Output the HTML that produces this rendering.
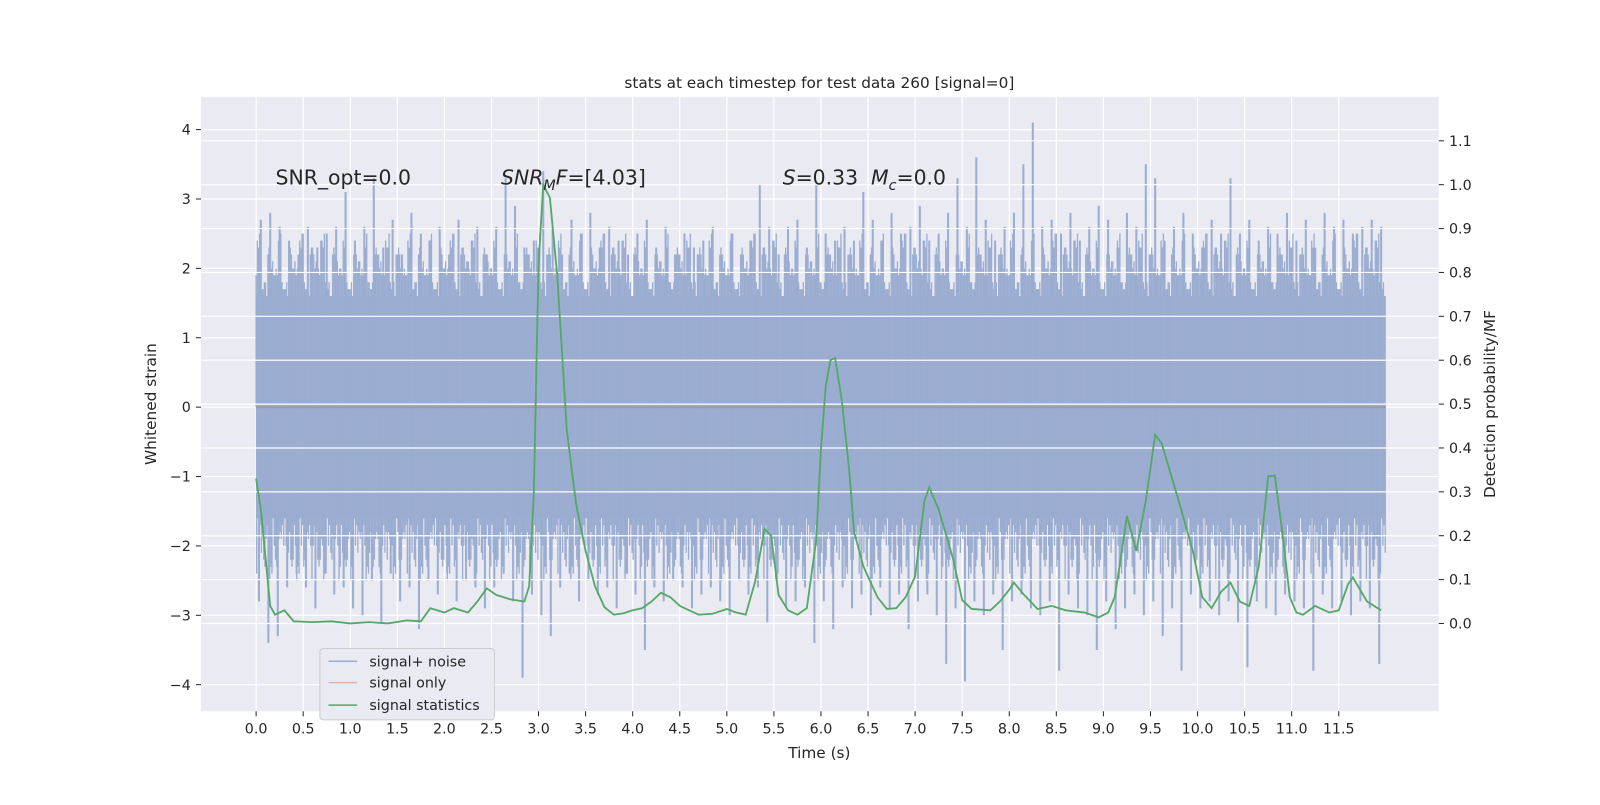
<!DOCTYPE html>
<html><head><meta charset="utf-8"><style>
body{margin:0;background:#fff}
svg text{font-family:"DejaVu Sans","Liberation Sans",sans-serif;fill:#262626}
</style></head><body>
<svg id="chart" width="1600" height="800" xmlns="http://www.w3.org/2000/svg">
<g transform="scale(1.0204)">
<rect x="197" y="95" width="1213" height="602" fill="#eaeaf2"/>
<g id="lgrid"></g><g id="noise"></g><g id="rgrid"></g><g id="series"></g><g id="axes"></g>
<text x="803" y="86" text-anchor="middle" font-size="15">stats at each timestep for test data 260 [signal=0]</text>
<text x="803" y="743" text-anchor="middle" font-size="15">Time (s)</text>
<text transform="translate(153,396) rotate(-90)" text-anchor="middle" font-size="15">Whitened strain</text>
<text transform="translate(1465,396) rotate(-90)" text-anchor="middle" font-size="15">Detection probability/MF</text>
<text x="270" y="181" font-size="20">SNR_opt=0.0</text>
<text x="491" y="181" font-size="20"><tspan font-style="italic">SNR</tspan><tspan font-style="italic" font-size="14" dy="5">M</tspan><tspan font-style="italic" dy="-5">F</tspan>=[4.03]</text>
<text x="767" y="181" font-size="20" xml:space="preserve"><tspan font-style="italic">S</tspan>=0.33  <tspan font-style="italic">M</tspan><tspan font-style="italic" font-size="14" dy="5">c</tspan><tspan dy="-5">=0.0</tspan></text>
<g>
<rect x="313.5" y="635.5" width="171" height="70" rx="3" fill="#eaeaf2" stroke="#cccccc"/>
<line x1="322" y1="648" x2="350" y2="648" stroke="#4c72b0" stroke-opacity="0.5" stroke-width="1.5"/>
<text x="362" y="653" font-size="14">signal+ noise</text>
<line x1="322" y1="669" x2="350" y2="669" stroke="#dd8452" stroke-opacity="0.5" stroke-width="1.5"/>
<text x="362" y="674" font-size="14">signal only</text>
<line x1="322" y1="691" x2="350" y2="691" stroke="#55a868" stroke-width="1.5"/>
<text x="362" y="696" font-size="14">signal statistics</text>
</g>
</g>
</svg>
<script>
const statT=[0,0.05,0.1,0.15,0.2,0.3,0.4,0.6,0.8,1.0,1.2,1.4,1.6,1.75,1.85,2.0,2.1,2.25,2.35,2.45,2.55,2.7,2.85,2.9,2.95,3.0,3.05,3.12,3.2,3.3,3.4,3.5,3.6,3.7,3.8,3.9,4.0,4.1,4.2,4.3,4.4,4.5,4.7,4.85,5.0,5.1,5.2,5.3,5.4,5.47,5.55,5.65,5.75,5.85,5.95,6.0,6.05,6.1,6.15,6.22,6.3,6.35,6.45,6.6,6.7,6.8,6.9,7.0,7.1,7.15,7.25,7.4,7.5,7.6,7.8,7.9,8.0,8.05,8.15,8.3,8.45,8.6,8.8,8.95,9.05,9.12,9.2,9.25,9.35,9.45,9.55,9.62,9.8,9.95,10.05,10.15,10.25,10.35,10.45,10.55,10.65,10.75,10.82,10.9,10.98,11.05,11.12,11.25,11.4,11.5,11.6,11.65,11.8,11.95];
const statP=[0.33,0.26,0.15,0.04,0.02,0.03,0.005,0.003,0.005,0,0.003,0,0.007,0.005,0.035,0.025,0.035,0.025,0.05,0.08,0.065,0.055,0.05,0.085,0.3,0.82,1.0,0.97,0.79,0.44,0.27,0.165,0.085,0.037,0.02,0.023,0.03,0.035,0.05,0.07,0.06,0.04,0.02,0.022,0.033,0.025,0.02,0.095,0.215,0.2,0.065,0.03,0.02,0.035,0.19,0.4,0.54,0.6,0.605,0.51,0.35,0.21,0.13,0.06,0.033,0.035,0.06,0.107,0.28,0.31,0.26,0.15,0.053,0.033,0.03,0.05,0.077,0.093,0.067,0.033,0.04,0.03,0.025,0.014,0.025,0.06,0.17,0.245,0.165,0.28,0.43,0.41,0.28,0.165,0.06,0.035,0.072,0.093,0.05,0.04,0.13,0.335,0.337,0.21,0.06,0.025,0.02,0.04,0.025,0.03,0.09,0.105,0.05,0.03];
// noise extremes per 0.1 s bin
const noiseUp=[2.7,2.8,2.6,2.4,2.2,2.6,2.3,2.5,2.6,3.1,2.4,2.6,3.3,2.3,2.7,2.2,2.8,2.5,2.4,2.6,2.2,2.7,2.1,2.6,2.2,2.6,3.3,2.9,2.3,2.4,3.4,2.6,2.2,2.7,2.5,2.8,2.3,2.6,2.4,2.2,2.5,2.7,2.3,2.6,2.2,2.5,2.3,2.4,2.6,2.2,2.5,2.2,2.4,3.2,2.6,2.2,2.6,2.7,2.3,3.2,2.5,2.4,2.6,2.4,3.1,2.7,2.4,2.8,2.5,2.6,2.9,2.4,2.5,2.8,3.3,2.6,3.6,2.7,2.4,2.6,2.8,3.5,4.1,2.6,2.7,2.5,2.8,2.4,2.6,2.9,2.7,2.3,2.8,2.6,3.5,3.3,2.4,2.6,2.8,2.5,2.3,2.7,2.5,3.3,2.5,2.7,2.4,2.6,2.5,2.8,2.4,2.7,2.3,2.8,2.6,2.7,2.5,2.6,2.7,2.6];
const noiseDn=[-2.8,-3.4,-3.3,-2.6,-2.4,-2.6,-2.9,-2.4,-2.7,-2.6,-2.9,-3.0,-2.5,-3.1,-2.4,-2.8,-2.6,-3.2,-2.5,-2.7,-2.4,-2.8,-2.5,-2.6,-2.9,-2.6,-2.4,-2.8,-3.9,-2.7,-3.0,-3.3,-2.6,-2.4,-2.8,-2.5,-2.7,-2.6,-2.9,-2.4,-2.7,-3.5,-2.6,-2.8,-2.5,-2.6,-2.9,-2.7,-2.6,-2.8,-3.0,-2.5,-2.7,-2.6,-3.1,-2.5,-2.9,-2.8,-2.6,-3.4,-2.8,-3.2,-2.6,-2.9,-2.7,-3.0,-2.6,-2.9,-2.7,-3.2,-2.8,-2.7,-3.0,-3.7,-2.9,-3.95,-2.8,-3.0,-2.7,-3.5,-2.8,-2.7,-2.9,-3.0,-2.8,-3.8,-2.7,-2.9,-3.0,-3.5,-2.8,-3.2,-2.9,-2.7,-3.0,-2.8,-3.3,-2.9,-3.8,-2.7,-2.9,-2.8,-3.0,-2.8,-3.1,-3.75,-2.8,-2.9,-3.0,-2.7,-2.8,-2.9,-3.8,-2.7,-2.9,-2.8,-3.0,-2.8,-2.9,-3.7];
// minor spike magnitudes (repeating texture within each bin)
const minorMag=[1.9,2.2,1.7,2.4,2.0,1.8,2.3,2.1,1.6,2.5,1.9,2.2,1.8,2.0,2.3,1.7];
const xTicks=[0,0.5,1,1.5,2,2.5,3,3.5,4,4.5,5,5.5,6,6.5,7,7.5,8,8.5,9,9.5,10,10.5,11,11.5];
const yTicks=[-4,-3,-2,-1,0,1,2,3,4];
const y2Ticks=[0,0.1,0.2,0.3,0.4,0.5,0.6,0.7,0.8,0.9,1.0,1.1];
const X0=197,X1=1410,Y0=95,Y1=697;
const xs=t=>251+t*92.26, ys=v=>399-v*68, ps=p=>611-p*430;
const NS='http://www.w3.org/2000/svg';
function mk(tag,attrs,parent,txt){const e=document.createElementNS(NS,tag);for(const k in attrs)e.setAttribute(k,attrs[k]);if(txt!==undefined)e.textContent=txt;document.getElementById(parent).appendChild(e);return e;}
const fmt=v=>v<0?'\u2212'+Math.abs(v):String(v);
xTicks.forEach(t=>{const x=xs(t);
 let g=mk('line',{x1:x,x2:x,y1:Y0,y2:Y1,stroke:'#fff','stroke-width':1.2},'lgrid');
 
 let k=mk('line',{x1:x,x2:x,y1:Y1,y2:Y1+5,stroke:'#262626'},'axes');
 
 let l=mk('text',{x:x,y:Y1+22,'text-anchor':'middle','font-size':14},'axes',t.toFixed(1));
 });
yTicks.forEach(v=>{const y=ys(v);
 let g=mk('line',{x1:X0,x2:X1,y1:y,y2:y,stroke:'#fff','stroke-width':1.2},'lgrid');
 
 let k=mk('line',{x1:X0-5,x2:X0,y1:y,y2:y,stroke:'#262626'},'axes');
 
 let l=mk('text',{x:X0-10,y:y+5,'text-anchor':'end','font-size':14},'axes',fmt(v));
 });
y2Ticks.forEach(p=>{const y=ps(p);
 let g=mk('line',{x1:X0,x2:X1,y1:y,y2:y,stroke:'#fff','stroke-width':1.2},'rgrid');
 
 let k=mk('line',{x1:X1,x2:X1+5,y1:y,y2:y,stroke:'#262626'},'axes');
 
 let l=mk('text',{x:X1+10,y:y+5,'font-size':14},'axes',p.toFixed(1));
 });
const nc='#9badd0';
let band=mk('rect',{x:xs(0),y:ys(1.6),width:xs(12)-xs(0),height:ys(-1.6)-ys(1.6),fill:nc},'noise');

noiseUp.forEach((v,i)=>{const t=i*0.1+0.05;
 for(let j=0;j<8;j++){const m=minorMag[(i*5+j*3)%minorMag.length];
  let b=mk('line',{x1:xs(i*0.1+j*0.0125),x2:xs(i*0.1+j*0.0125),y1:ys(0),y2:ys(m),stroke:nc,'stroke-width':1.3},'noise');
  }
 let a=mk('line',{x1:xs(t),x2:xs(t),y1:ys(0),y2:ys(v),stroke:nc,'stroke-width':2},'noise');
 });
noiseDn.forEach((v,i)=>{const t=i*0.1+0.03;
 for(let j=0;j<8;j++){const m=minorMag[(i*7+j*5+3)%minorMag.length];
  let b=mk('line',{x1:xs(i*0.1+j*0.0125+0.006),x2:xs(i*0.1+j*0.0125+0.006),y1:ys(0),y2:ys(-m),stroke:nc,'stroke-width':1.3},'noise');
  }
 let a=mk('line',{x1:xs(t),x2:xs(t),y1:ys(0),y2:ys(v),stroke:nc,'stroke-width':2},'noise');
 });
let zl=mk('line',{x1:xs(0),x2:xs(12),y1:ys(0),y2:ys(0),stroke:'#a09a9e','stroke-width':2},'series');

let d=statT.map((t,i)=>(i?'L':'M')+xs(t).toFixed(1)+','+ps(statP[i]).toFixed(1)).join(' ');
let sl=mk('path',{d:d,fill:'none',stroke:'#55a868','stroke-width':1.8},'series');

</script>
</body></html>
